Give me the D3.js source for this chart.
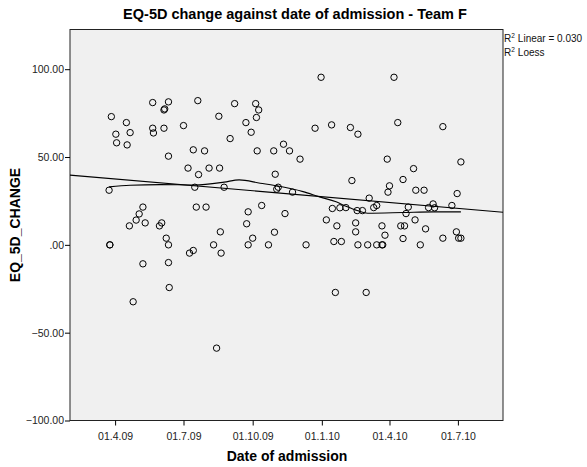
<!DOCTYPE html>
<html>
<head>
<meta charset="utf-8">
<script src="https://cdn.jsdelivr.net/npm/d3@7"></script>
<style>
  body { margin: 0; background: #fff; }
  text { font-family: "Liberation Sans", Arial, sans-serif; }
</style>
</head>
<body>
<div class="chart"></div>
<script>
// EQ-5D change vs admission date, team F

const width = 587
const height = 467

const admitted = ['2009-03-27','2009-04-16','2009-04-02','2009-04-21','2009-04-03','2009-04-17','2009-05-21','2009-06-11','2009-06-05','2009-06-06',
  '2009-05-21','2009-05-22','2009-06-05','2009-06-11','2009-07-01','2009-07-20','2009-08-17','2009-09-07','2009-10-05','2009-10-09',
  '2009-10-06','2009-09-22','2009-09-29','2009-09-01','2009-07-14','2009-07-29','2009-10-07','2009-10-29','2009-07-07','2009-07-21',
  '2009-08-04','2009-08-18','2009-10-31','2009-03-24','2009-07-16','2009-08-24','2009-11-02','2009-05-08','2009-05-03','2009-04-29',
  '2009-04-20','2009-05-11','2009-06-02','2009-05-30','2009-07-18','2009-07-31','2009-09-25','2009-10-13','2009-09-23','2009-08-19',
  '2009-10-30','2009-06-08','2009-06-11','2009-03-25','2009-03-25','2009-08-10','2009-10-01','2009-09-25','2009-10-22','2009-07-09',
  '2009-07-14','2009-08-20','2009-05-08','2009-06-11','2009-06-12','2009-04-25','2009-08-14','2009-12-31','2010-04-07','2009-12-23',
  '2010-01-14','2010-02-08','2010-02-18','2010-04-12','2010-06-11','2009-11-11','2009-11-19','2009-12-03','2010-03-29','2010-07-05',
  '2010-05-03','2010-04-19','2010-02-10','2010-04-01','2010-03-30','2010-05-06','2010-05-17','2010-06-30','2009-11-04','2009-11-23',
  '2010-03-05','2009-11-13','2010-01-15','2010-01-25','2010-02-02','2010-02-17','2010-02-24','2010-03-11','2010-03-15','2010-04-26',
  '2010-04-23','2010-05-23','2010-05-29','2010-05-31','2010-06-23','2010-01-07','2010-01-21','2010-02-15','2010-02-15','2010-03-22',
  '2010-04-16','2010-04-21','2010-05-05','2010-05-19','2010-03-26','2010-04-19','2010-06-11','2010-06-29','2010-07-02','2010-07-05',
  '2009-12-11','2010-01-17','2010-01-27','2010-02-18','2010-03-03','2010-03-15','2010-03-22','2010-03-23','2010-05-12','2010-01-19',
  '2010-03-01']

const change = [73.0,69.6,63.0,63.9,58.1,56.9,81.0,81.4,76.8,77.4,
  66.4,63.7,66.4,50.5,67.9,82.1,73.2,80.4,80.4,76.8,
  72.5,69.6,64.1,60.5,54.1,53.5,53.5,53.5,43.7,40.0,
  43.7,43.7,40.2,31.1,32.8,32.8,31.7,21.5,17.6,14.1,
  10.8,12.5,12.5,10.8,21.5,21.5,18.8,22.4,12.0,7.4,
  7.2,3.8,0,0,0,0,3.8,0,0,-4.7,
  -3.2,-4.7,-10.8,-10.1,-24.3,-32.4,-58.8,95.4,95.4,66.4,
  68.3,66.8,63.0,69.6,67.3,57.3,53.5,48.8,48.8,47.2,
  43.4,37.2,36.6,33.6,30.0,31.1,31.1,29.2,32.8,30.0,
  26.6,17.8,20.7,21.1,21.2,19.5,19.5,21.2,22.4,21.5,
  17.8,21.2,23.3,21.1,22.4,14.2,10.8,12.5,7.4,10.8,
  10.8,10.8,14.2,9.1,5.5,3.6,3.8,7.4,3.8,3.8,
  0,1.9,1.9,0,0,0,0,0,0,-27.1,
  -27.1]

// fitted lines
const linearDates = ['2009-01-31','2010-08-30']
const linearValues = [39.7, 18.6]
const loessDates = ['2009-03-24','2009-04-21','2009-05-31','2009-07-16','2009-08-24','2009-09-13','2009-10-11','2009-11-02',
  '2009-12-07','2009-12-29','2010-01-20','2010-02-03','2010-02-17','2010-03-03','2010-04-19','2010-05-29','2010-07-05']
const loessValues = [33.0,33.9,34.3,34.1,35.7,37.0,35.1,33.6,30.3,27.3,24.5,21.8,19.5,18.0,18.4,18.8,18.8]

const xTicks = ['2009-04-01','2009-07-01','2009-10-01','2010-01-01','2010-04-01','2010-07-01']
const yTicks = [100, 50, 0, -50, -100]

const parse = d3.timeParse('%Y-%m-%d')
const points = admitted.map((d, i) => ({date: parse(d), value: change[i]}))
const linear = linearDates.map((d, i) => ({date: parse(d), value: linearValues[i]}))
const loess = loessDates.map((d, i) => ({date: parse(d), value: loessValues[i]}))

const plotLeft = 70, plotRight = 503, plotTop = 29.5, plotBottom = 420.5

const x = d3.scaleTime()
    .domain([parse('2009-01-31'), parse('2010-08-30')])
    .range([plotLeft, plotRight])

const y = d3.scaleLinear()
    .domain([-100, 122.6])
    .range([plotBottom, plotTop])

const svg = d3.select('.chart')
    .append('svg')
    .attr('width', width)
    .attr('height', height)

svg.append('rect')
    .attr('x', plotLeft)
    .attr('y', plotTop)
    .attr('width', plotRight - plotLeft)
    .attr('height', plotBottom - plotTop)
    .attr('fill', '#f0f0f0')
    .attr('stroke', '#222')
    .attr('stroke-width', 1)

const xAxis = svg.append('g')
    .attr('transform', `translate(0, ${plotBottom})`)
    .call(d3.axisBottom(x)
        .tickValues(xTicks.map(parse))
        .tickFormat(d => `01.${d.getMonth() + 1}.${d3.timeFormat('%y')(d)}`)
        .tickSize(5)
        .tickSizeOuter(0))
xAxis.select('.domain').remove()
xAxis.selectAll('text')
    .attr('dy', '1.05em')
    .attr('font-size', 10.5)
    .attr('font-family', '"Liberation Sans", Arial, sans-serif')
    .attr('fill', '#222')

const yAxis = svg.append('g')
    .attr('transform', `translate(${plotLeft}, 0)`)
    .call(d3.axisLeft(y)
        .tickValues(yTicks)
        .tickFormat(d => d === 0 ? '.00' : d3.format('.2f')(d))
        .tickSize(5)
        .tickSizeOuter(0))
yAxis.select('.domain').remove()
yAxis.selectAll('text')
    .attr('x', -6)
    .attr('font-size', 10.5)
    .attr('font-family', '"Liberation Sans", Arial, sans-serif')
    .attr('fill', '#222')

const line = d3.line()
    .x(d => x(d.date))
    .y(d => y(d.value))

svg.append('path')
    .datum(linear)
    .attr('d', line)
    .attr('fill', 'none')
    .attr('stroke', '#000')
    .attr('stroke-width', 1.1)

svg.append('path')
    .datum(loess)
    .attr('d', line.curve(d3.curveMonotoneX))
    .attr('fill', 'none')
    .attr('stroke', '#000')
    .attr('stroke-width', 1.1)

svg.append('g')
    .selectAll('circle')
    .data(points)
    .enter().append('circle')
      .attr('cx', d => x(d.date))
      .attr('cy', d => y(d.value))
      .attr('r', 3.2)
      .attr('fill', 'none')
      .attr('stroke', '#000')
      .attr('stroke-width', 1)

svg.append('text')
    .attr('x', 295)
    .attr('y', 19)
    .attr('text-anchor', 'middle')
    .attr('font-size', 14.5)
    .attr('font-weight', 'bold')
    .text('EQ-5D change against date of admission - Team F')

svg.append('text')
    .attr('x', 287)
    .attr('y', 461)
    .attr('text-anchor', 'middle')
    .attr('font-size', 14)
    .attr('font-weight', 'bold')
    .text('Date of admission')

svg.append('text')
    .attr('transform', `translate(20, 225) rotate(-90)`)
    .attr('text-anchor', 'middle')
    .attr('font-size', 14)
    .attr('font-weight', 'bold')
    .text('EQ_5D_CHANGE')

const legend = ['Linear = 0.030', 'Loess']
legend.forEach((t, i) => {
    const txt = svg.append('text')
        .attr('x', 504)
        .attr('y', 42 + i * 14)
        .attr('font-size', 10)
        .attr('fill', '#111')
    txt.append('tspan').text('R')
    txt.append('tspan').attr('dy', -4).attr('font-size', 6.5).text('2')
    txt.append('tspan').attr('dy', 4).attr('dx', 3).text(t)
})
</script>
</body>
</html>
